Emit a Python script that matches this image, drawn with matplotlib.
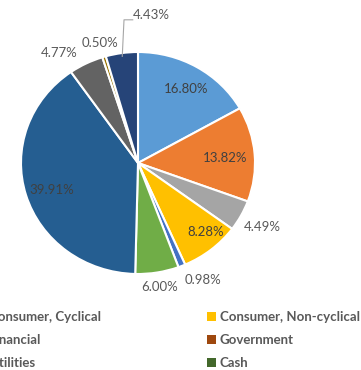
import numpy as np
import matplotlib
matplotlib.use("Agg")
import matplotlib.pyplot as plt
from matplotlib.patches import Patch

# pie slices, clockwise from 12 o'clock
values = [16.80, 13.82, 4.49, 8.28, 0.98, 6.00, 39.91, 4.77, 0.50, 4.43]
colors = ["#5B9BD5", "#ED7D31", "#A5A5A5", "#FFC000", "#4472C4",
          "#70AD47", "#255E91", "#636363", "#997300", "#264478"]

# legend (only the two right-hand columns are in the picture)
legend_left = ["Consumer, Cyclical", "Financial", "Utilities"]
legend_left_colors = ["#A5A5A5", "#255E91", "#264478"]
legend_right = ["Consumer, Non-cyclical", "Government", "Cash"]
legend_right_colors = ["#FFC000", "#9E480E", "#43682B"]

# label placement: radius (in pie radii) and angle nudge (degrees) per slice
label_r = [0.78, 0.745, 1.21, 0.85, 1.19, 1.13, 0.775, 1.20, 1.13, 1.34]
label_da = [-1.5, -1, 0, 4, 6, 0, 1.5, 8, 0, -13]
inside = [True, True, False, True, False, False, True, False, False, False]

W, H = 361, 370
fig = plt.figure(figsize=(W / 100, H / 100), dpi=100)
plt.rcParams['font.family'] = ['Lato', 'DejaVu Sans']

# the pie in the reference is slightly squashed vertically
cx, cy, Rx, Ry = 138, 370 - 163, 117, 111
ax = fig.add_axes([(cx - Rx) / W, (cy - Ry) / H, 2 * Rx / W, 2 * Ry / H])
wedges, _ = ax.pie(values, colors=colors, startangle=90, counterclock=False,
                   wedgeprops=dict(edgecolor="white", linewidth=1.5))
ax.set_xlim(-1, 1)
ax.set_ylim(-1, 1)
ax.set_aspect("auto")
ax.axis("off")

for i, w in enumerate(wedges):
    mid = (w.theta1 + w.theta2) / 2 + label_da[i]
    a = np.deg2rad(mid)
    x, y = label_r[i] * np.cos(a), label_r[i] * np.sin(a)
    col = "#404040" if inside[i] else "#595959"
    ax.text(x, y, f"{values[i]:.2f}%", ha="center", va="center",
            fontsize=9.5, color=col, clip_on=False)

# leader line for the 4.43% label
w = wedges[9]
a = np.deg2rad((w.theta1 + w.theta2) / 2)
x0, y0 = 0.97 * np.cos(a), 0.97 * np.sin(a)
ax.plot([x0, x0 + 0.015, -0.045], [y0, 1.29, 1.29], color="#A6A6A6",
        lw=0.8, clip_on=False)

# legend columns
h1 = [Patch(facecolor=c) for c in legend_left_colors]
h2 = [Patch(facecolor=c) for c in legend_right_colors]
common = dict(frameon=False, loc="upper left", borderpad=0, borderaxespad=0,
              handlelength=0.7, handleheight=0.7, handletextpad=0.25,
              labelspacing=0.85, prop=dict(family="Lato", weight="bold", size=9.5),
              labelcolor="#595959", bbox_transform=fig.transFigure)
fig.legend(h1, legend_left, bbox_to_anchor=(-24 / W, 1 - 311 / H), **common)
fig.legend(h2, legend_right, bbox_to_anchor=(207 / W, 1 - 311 / H), **common)

fig.savefig("out.png", dpi=100)
